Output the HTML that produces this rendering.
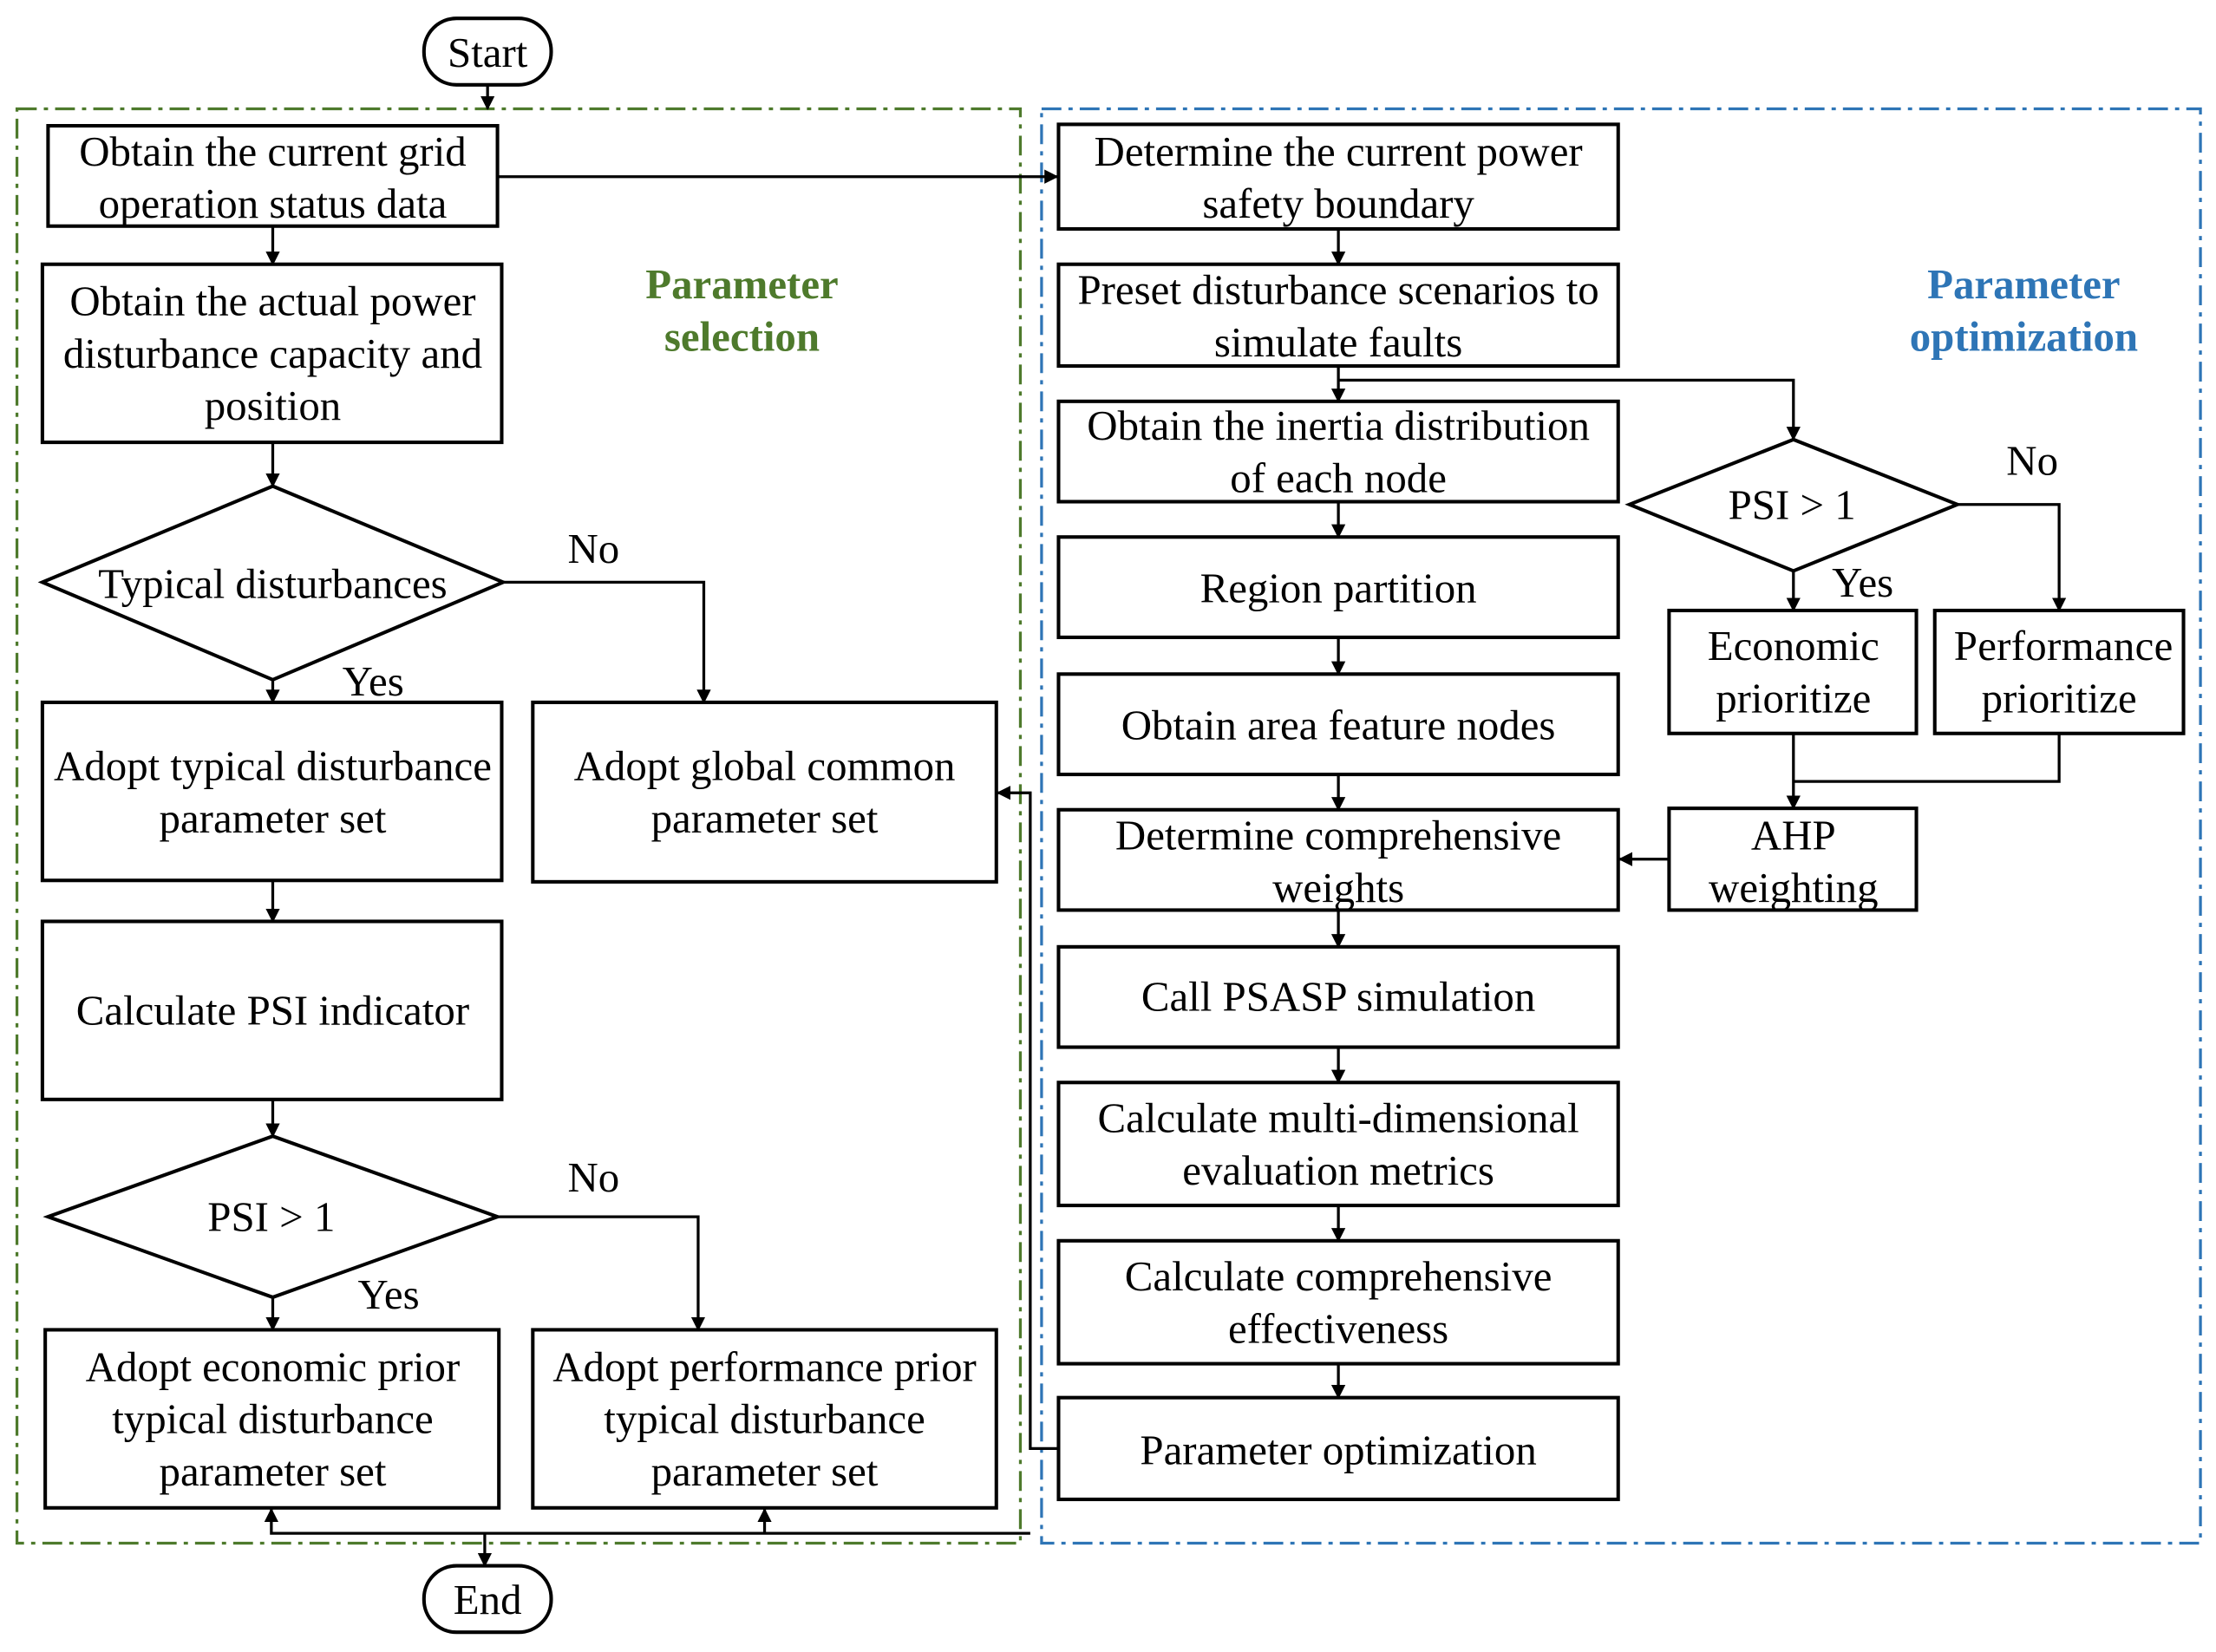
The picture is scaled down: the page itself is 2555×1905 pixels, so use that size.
<!DOCTYPE html>
<html><head><meta charset="utf-8"><style>html,body{margin:0;padding:0;background:#fff}svg{display:block}</style></head>
<body>
<svg width="2555" height="1905" viewBox="0 0 1568 1169" preserveAspectRatio="none" xmlns="http://www.w3.org/2000/svg" font-family="Liberation Serif, serif" font-size="30">
<defs><marker id="a" markerWidth="10" markerHeight="10" refX="9" refY="5" orient="auto" markerUnits="userSpaceOnUse"><path d="M0,0 L10,5 L0,10 z" fill="#000"/></marker></defs>
<rect x="12" y="77" width="710" height="1015" fill="none" stroke="#4e7a2c" stroke-width="2" stroke-dasharray="14,5,3,5"/>
<rect x="737" y="77" width="820" height="1015" fill="none" stroke="#2e75b6" stroke-width="2" stroke-dasharray="14,5,3,5"/>
<g fill="none" stroke="#000" stroke-width="2.5">
<rect x="300" y="13" width="90" height="47" rx="23"/>
<rect x="300" y="1108" width="90" height="47" rx="23"/>
<rect x="34" y="89" width="318" height="71"/>
<rect x="30" y="187" width="325" height="126"/>
<polygon points="30,412 193,344 356,412 193,481"/>
<rect x="30" y="497" width="325" height="126"/>
<rect x="377" y="497" width="328" height="127"/>
<rect x="30" y="652" width="325" height="126"/>
<polygon points="34,861 193,804 352,861 193,918"/>
<rect x="32" y="941" width="321" height="126"/>
<rect x="377" y="941" width="328" height="126"/>
<rect x="749" y="88" width="396" height="74"/>
<rect x="749" y="187" width="396" height="72"/>
<rect x="749" y="284" width="396" height="71"/>
<rect x="749" y="380" width="396" height="71"/>
<rect x="749" y="477" width="396" height="71"/>
<rect x="749" y="573" width="396" height="71"/>
<rect x="749" y="670" width="396" height="71"/>
<rect x="749" y="766" width="396" height="87"/>
<rect x="749" y="878" width="396" height="87"/>
<rect x="749" y="989" width="396" height="72"/>
<polygon points="1153,357 1269,311 1385,357 1269,404"/>
<rect x="1181" y="432" width="175" height="87"/>
<rect x="1369" y="432" width="176" height="87"/>
<rect x="1181" y="572" width="175" height="72"/>
</g>
<g fill="none" stroke="#000" stroke-width="2">
<path d="M345,60V77" marker-end="url(#a)"/>
<path d="M193,160V187" marker-end="url(#a)"/>
<path d="M193,313V344" marker-end="url(#a)"/>
<path d="M193,481V497" marker-end="url(#a)"/>
<path d="M193,623V652" marker-end="url(#a)"/>
<path d="M193,778V804" marker-end="url(#a)"/>
<path d="M193,918V941" marker-end="url(#a)"/>
<path d="M356,412H498V497" marker-end="url(#a)"/>
<path d="M352,861H494V941" marker-end="url(#a)"/>
<path d="M352,125H748" marker-end="url(#a)"/>
<path d="M947,162V187" marker-end="url(#a)"/>
<path d="M947,259V284" marker-end="url(#a)"/>
<path d="M947,269H1269V311" marker-end="url(#a)"/>
<path d="M947,355V380" marker-end="url(#a)"/>
<path d="M947,451V477" marker-end="url(#a)"/>
<path d="M947,548V573" marker-end="url(#a)"/>
<path d="M947,644V670" marker-end="url(#a)"/>
<path d="M947,741V766" marker-end="url(#a)"/>
<path d="M947,853V878" marker-end="url(#a)"/>
<path d="M947,965V989" marker-end="url(#a)"/>
<path d="M1385,357H1457V432" marker-end="url(#a)"/>
<path d="M1269,404V432" marker-end="url(#a)"/>
<path d="M1269,519V572" marker-end="url(#a)"/>
<path d="M1457,519V553H1269"/>
<path d="M1181,608H1146" marker-end="url(#a)"/>
<path d="M749,1025H729V561H706" marker-end="url(#a)"/>
<path d="M729,1085H192V1068" marker-end="url(#a)"/>
<path d="M541,1085V1068" marker-end="url(#a)"/>
<path d="M343,1085V1108" marker-end="url(#a)"/>
</g>
<g text-anchor="middle" dominant-baseline="central" fill="#000">
<text x="345" y="37">Start</text>
<text x="345" y="1132">End</text>
<text x="193" y="107">Obtain the current grid</text><text x="193" y="144">operation status data</text>
<text x="193" y="213">Obtain the actual power</text><text x="193" y="250">disturbance capacity and</text><text x="193" y="287">position</text>
<text x="193" y="413">Typical disturbances</text>
<text x="193" y="542">Adopt typical disturbance</text><text x="193" y="579">parameter set</text>
<text x="541" y="542">Adopt global common</text><text x="541" y="579">parameter set</text>
<text x="193" y="715">Calculate PSI indicator</text>
<text x="192" y="861">PSI &gt; 1</text>
<text x="193" y="967">Adopt economic prior</text><text x="193" y="1004">typical disturbance</text><text x="193" y="1041">parameter set</text>
<text x="541" y="967">Adopt performance prior</text><text x="541" y="1004">typical disturbance</text><text x="541" y="1041">parameter set</text>
<text x="264" y="482">Yes</text><text x="420" y="388">No</text>
<text x="275" y="916">Yes</text><text x="420" y="833">No</text>
<text x="947" y="107">Determine the current power</text><text x="947" y="144">safety boundary</text>
<text x="947" y="205">Preset disturbance scenarios to</text><text x="947" y="242">simulate faults</text>
<text x="947" y="301">Obtain the inertia distribution</text><text x="947" y="338">of each node</text>
<text x="947" y="416">Region partition</text>
<text x="947" y="513">Obtain area feature nodes</text>
<text x="947" y="591">Determine comprehensive</text><text x="947" y="628">weights</text>
<text x="947" y="705">Call PSASP simulation</text>
<text x="947" y="791">Calculate multi-dimensional</text><text x="947" y="828">evaluation metrics</text>
<text x="947" y="903">Calculate comprehensive</text><text x="947" y="940">effectiveness</text>
<text x="947" y="1026">Parameter optimization</text>
<text x="1268" y="357">PSI &gt; 1</text>
<text x="1318" y="412">Yes</text><text x="1438" y="326">No</text>
<text x="1269" y="457">Economic</text><text x="1269" y="494">prioritize</text>
<text x="1460" y="457" textLength="155">Performance</text><text x="1457" y="494">prioritize</text>
<text x="1269" y="591">AHP</text><text x="1269" y="628">weighting</text>
<g font-weight="bold" font-size="30"><text x="525" y="201" fill="#4e7a2c">Parameter</text><text x="525" y="238" fill="#4e7a2c">selection</text>
<text x="1432" y="201" fill="#2e75b6">Parameter</text><text x="1432" y="238" fill="#2e75b6">optimization</text></g>
</g>
</svg>
</body></html>
